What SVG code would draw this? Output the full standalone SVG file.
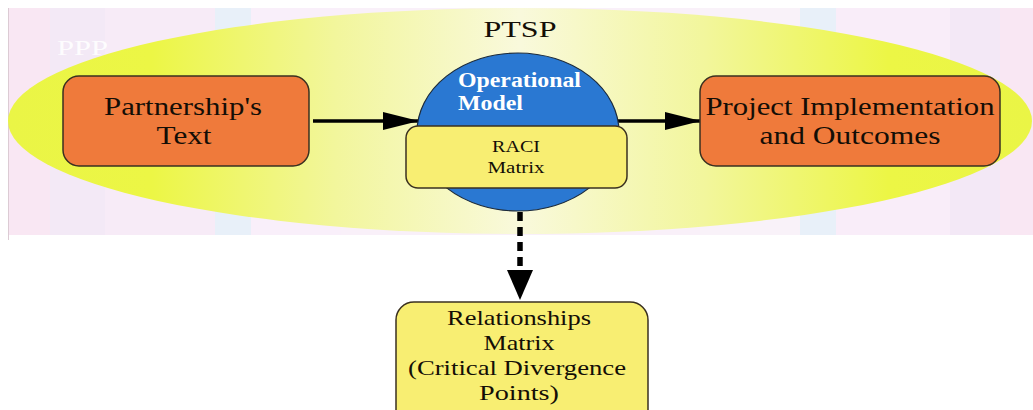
<svg xmlns="http://www.w3.org/2000/svg" width="1033" height="410" viewBox="0 0 1033 410">
  <defs>
    <linearGradient id="ovalFill" x1="0" y1="0" x2="1" y2="0">
      <stop offset="0" stop-color="#eaf546"/>
      <stop offset="0.14" stop-color="#ecf645"/>
      <stop offset="0.32" stop-color="#f2f69c"/>
      <stop offset="0.5" stop-color="#f9f9dc"/>
      <stop offset="0.68" stop-color="#f2f69c"/>
      <stop offset="0.86" stop-color="#ecf645"/>
      <stop offset="1" stop-color="#eaf546"/>
    </linearGradient>
    <marker id="head" viewBox="0 0 36 20" refX="35" refY="10" markerWidth="36" markerHeight="20" markerUnits="userSpaceOnUse" orient="auto">
      <path d="M0,1 L36,10 L0,19 Z" fill="#000"/>
    </marker>
    <style>
      .lbl { font-family: "Liberation Serif", "Times New Roman", serif; fill: #140e06; text-anchor: middle; }
      .box { stroke: #3a3020; stroke-width: 1.5; }
      .orange { fill: #ef7a3b; }
      .yellow { fill: #f8ee72; }
      .conn { stroke: #000; fill: none; }
    </style>
  </defs>

  <rect width="1033" height="410" fill="#ffffff"/>

  <!-- pastel striped band -->
  <g id="band">
    <rect x="8" y="8" width="1025" height="227" fill="#f9f0f9"/>
    <rect x="8" y="8" width="42" height="227" fill="#f9e7f3"/>
    <rect x="50" y="8" width="55" height="227" fill="#f3e9f6"/>
    <rect x="105" y="8" width="110" height="227" fill="#f7ebf7"/>
    <rect x="215" y="8" width="36" height="227" fill="#e8f0f9"/>
    <rect x="251" y="8" width="90" height="227" fill="#f9effa"/>
    <rect x="700" y="8" width="100" height="227" fill="#f9f2f9"/>
    <rect x="800" y="8" width="36" height="227" fill="#e8f0f9"/>
    <rect x="836" y="8" width="114" height="227" fill="#f9edf9"/>
    <rect x="950" y="8" width="50" height="227" fill="#f3e8f6"/>
    <rect x="1000" y="8" width="33" height="227" fill="#f9e7f3"/>
    <line x1="8.5" y1="8" x2="8.5" y2="240" stroke="#dccbd4" stroke-width="1"/>
  </g>

  <!-- PPP oval -->
  <g id="ppp">
    <ellipse cx="520" cy="121" rx="512" ry="113" fill="url(#ovalFill)"/>
    <text x="57" y="55" font-family="Liberation Serif, serif" font-size="22" fill="#ffffff" fill-opacity="0.92" textLength="51" lengthAdjust="spacingAndGlyphs">PPP</text>
  </g>

  <text id="ptsp" x="520" y="37" class="lbl" font-size="23" textLength="73" lengthAdjust="spacingAndGlyphs">PTSP</text>

  <!-- connectors -->
  <g id="connectors" class="conn">
    <line x1="313" y1="121" x2="418" y2="121" stroke-width="3.5" marker-end="url(#head)"/>
    <line x1="618" y1="121" x2="700" y2="121" stroke-width="3.5" marker-end="url(#head)"/>
    <line x1="520" y1="212" x2="520" y2="274" stroke-width="5.5" stroke-dasharray="9 6"/>
    <path d="M507,270 L533,270 L520,300 Z" fill="#000" stroke="none"/>
  </g>

  <!-- source text box -->
  <g id="partnership">
    <rect x="63" y="76" width="246" height="90" rx="16" class="box orange"/>
    <text class="lbl" font-size="26" x="183" y="115" textLength="158" lengthAdjust="spacingAndGlyphs">Partnership's</text>
    <text class="lbl" font-size="26" x="184" y="144" textLength="55" lengthAdjust="spacingAndGlyphs">Text</text>
  </g>

  <!-- operational model -->
  <g id="operational-model">
    <ellipse cx="518" cy="132" rx="101" ry="79" fill="#2a78d2" stroke="#1c2a3a" stroke-width="1.2"/>
    <text x="458" y="87" font-family="Liberation Serif, serif" font-size="20" font-weight="bold" fill="#ffffff" textLength="123" lengthAdjust="spacingAndGlyphs">Operational</text>
    <text x="458" y="110" font-family="Liberation Serif, serif" font-size="20" font-weight="bold" fill="#ffffff" textLength="65" lengthAdjust="spacingAndGlyphs">Model</text>
  </g>

  <g id="raci">
    <rect x="406" y="126" width="221" height="62" rx="12" class="box yellow"/>
    <text class="lbl" font-size="16" x="516" y="152" textLength="48" lengthAdjust="spacingAndGlyphs">RACI</text>
    <text class="lbl" font-size="16" x="516" y="173" textLength="57" lengthAdjust="spacingAndGlyphs">Matrix</text>
  </g>

  <!-- outcome box -->
  <g id="outcomes">
    <rect x="700" y="76" width="300" height="90" rx="16" class="box orange"/>
    <text class="lbl" font-size="26" x="850" y="115" textLength="289" lengthAdjust="spacingAndGlyphs">Project Implementation</text>
    <text class="lbl" font-size="26" x="850" y="144" textLength="181" lengthAdjust="spacingAndGlyphs">and Outcomes</text>
  </g>

  <!-- relationships matrix -->
  <g id="relationships">
    <rect x="396" y="302" width="252" height="130" rx="18" class="box yellow"/>
    <text class="lbl" font-size="21" x="519" y="325" textLength="144" lengthAdjust="spacingAndGlyphs">Relationships</text>
    <text class="lbl" font-size="21" x="519" y="350" textLength="71" lengthAdjust="spacingAndGlyphs">Matrix</text>
    <text class="lbl" font-size="21" x="517" y="375" textLength="218" lengthAdjust="spacingAndGlyphs">(Critical Divergence</text>
    <text class="lbl" font-size="21" x="519" y="400" textLength="80" lengthAdjust="spacingAndGlyphs">Points)</text>
  </g>
</svg>
